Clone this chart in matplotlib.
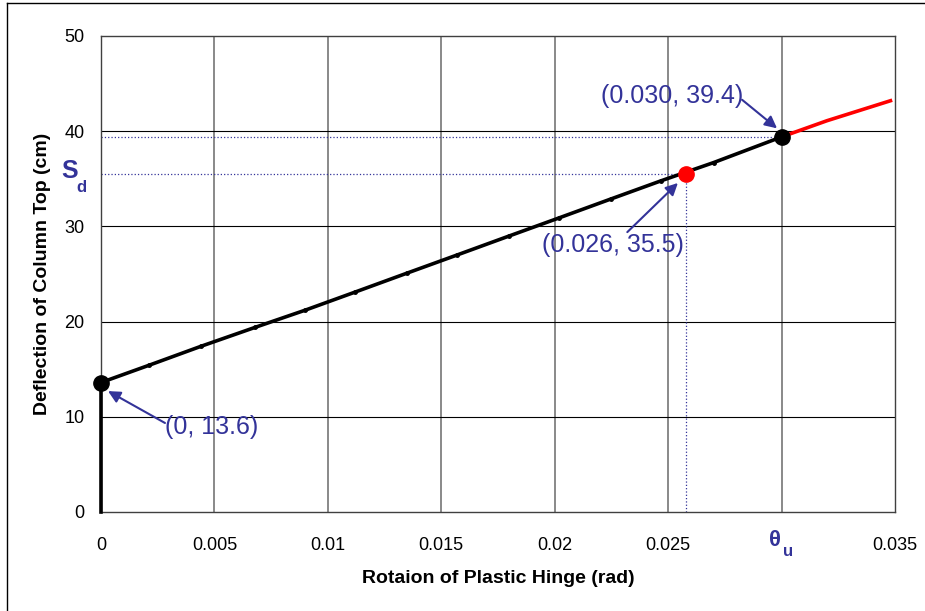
import matplotlib
matplotlib.use("Agg")
import matplotlib.pyplot as plt
from matplotlib.lines import Line2D

plt.rcParams['font.family'] = ['Liberation Sans', 'DejaVu Sans']

# pushover curve: hinge rotation (rad) vs. column top deflection (cm)
elastic_rot = [0.0, 0.0, 0.0, 0.0]
elastic_defl = [0.0, 4.5, 9.0, 13.6]
hinge_rot = [0.0, 0.0021, 0.0044, 0.0068, 0.0090, 0.0112, 0.0135, 0.0157,
             0.0180, 0.0202, 0.0225, 0.0247, 0.0270, 0.0300]
hinge_defl = [13.6, 15.4, 17.4, 19.4, 21.2, 23.1, 25.1, 27.0,
              29.0, 30.9, 32.9, 34.8, 36.7, 39.4]
beyond_rot = [0.0300, 0.0320, 0.0348]
beyond_defl = [39.4, 41.1, 43.2]

yield_pt = (0.0, 13.6)
demand_pt = (0.0258, 35.5)
ultimate_pt = (0.0300, 39.4)

x_ticks = [0, 0.005, 0.01, 0.015, 0.02, 0.025, 0.03, 0.035]
x_ticklabels = ['0', '0.005', '0.01', '0.015', '0.02', '0.025', '', '0.035']
y_ticks = [0, 10, 20, 30, 40, 50]

blue = '#333399'

fig = plt.figure(figsize=(9.25, 6.11), dpi=100)
ax = fig.add_axes([101 / 925, 99 / 611, 794 / 925, 476 / 611])

ax.set_xlim(0, 0.035)
ax.set_ylim(0, 50)
ax.set_xticks(x_ticks)
ax.set_xticklabels(x_ticklabels)
ax.set_yticks(y_ticks)
ax.tick_params(length=0, labelsize=13)
ax.tick_params(axis='x', pad=18)
ax.tick_params(axis='y', pad=12)

for x in x_ticks[1:-1]:
    ax.axvline(x, color='#808080', lw=1.3, zorder=1)
for y in y_ticks[1:-1]:
    ax.axhline(y, color='black', lw=0.8, zorder=1)
for s in ax.spines.values():
    s.set_color('#404040')
    s.set_linewidth(1.0)

# dotted guides for demand and ultimate points
ax.plot([0, ultimate_pt[0]], [ultimate_pt[1], ultimate_pt[1]], ls=':', color=blue, lw=0.9, zorder=2)
ax.plot([0, demand_pt[0]], [demand_pt[1], demand_pt[1]], ls=':', color=blue, lw=0.9, zorder=2)
ax.plot([demand_pt[0], demand_pt[0]], [0, demand_pt[1]], ls=':', color=blue, lw=0.9, zorder=2)

ax.plot(elastic_rot, elastic_defl, color='black', lw=2.6, zorder=3, clip_on=False)
ax.plot(hinge_rot, hinge_defl, color='black', lw=2.6, marker='o', ms=2.5, zorder=3)
ax.plot(beyond_rot, beyond_defl, color='red', lw=2.6, zorder=3)

ax.plot(*yield_pt, 'o', color='black', ms=11, zorder=5, clip_on=False)
ax.plot(*ultimate_pt, 'o', color='black', ms=11, zorder=5)
ax.plot(*demand_pt, 'o', color='red', ms=11, zorder=5)

arrow = dict(arrowstyle='-|>', color=blue, lw=1.5, mutation_scale=18, shrinkA=0, shrinkB=0)
ax.annotate('', xy=(0.00031, 12.7), xytext=(0.00282, 9.35), arrowprops=arrow, zorder=6)
ax.annotate('', xy=(0.0298, 40.3), xytext=(0.02826, 43.3), arrowprops=arrow, zorder=6)
ax.annotate('', xy=(0.02543, 34.56), xytext=(0.0232, 29.4), arrowprops=arrow, zorder=6)

ax.text(0.00489, 8.93, '(0, 13.6)', color=blue, fontsize=18, ha='center', va='center', zorder=6)
ax.text(0.02517, 43.7, '(0.030, 39.4)', color=blue, fontsize=18, ha='center', va='center', zorder=6)
ax.text(0.02257, 28.05, '(0.026, 35.5)', color=blue, fontsize=18, ha='center', va='center', zorder=6)

# symbolic tick labels
xt = ax.get_xaxis_transform()
yt = ax.get_yaxis_transform()
ax.text(0.02973, -0.060, 'θ', transform=xt, color=blue, fontsize=16, fontweight='bold',
        ha='center', va='center')
ax.text(0.03028, -0.082, 'u', transform=xt, color=blue, fontsize=12, fontweight='bold',
        ha='center', va='center')
ax.text(-0.040, demand_pt[1] + 0.3, 'S', transform=yt, color=blue, fontsize=18, fontweight='bold',
        ha='center', va='center')
ax.text(-0.025, demand_pt[1] - 1.4, 'd', transform=yt, color=blue, fontsize=12, fontweight='bold',
        ha='center', va='center')

ax.set_xlabel('Rotaion of Plastic Hinge (rad)', fontsize=14, fontweight='bold')
ax.set_ylabel('Deflection of Column Top (cm)', fontsize=14, fontweight='bold')
ax.xaxis.set_label_coords(0.5, -0.139)
ax.xaxis.label.set_va('center')
ax.yaxis.set_label_coords(-0.0743, 0.5)
ax.yaxis.label.set_va('center')

# outer frame of the chart area
fig.add_artist(Line2D([7 / 925, 7 / 925], [0, 608 / 611], transform=fig.transFigure, color='black', lw=1.0))
fig.add_artist(Line2D([7 / 925, 1], [608 / 611, 608 / 611], transform=fig.transFigure, color='black', lw=1.0))

fig.savefig('out.png', dpi=100)
